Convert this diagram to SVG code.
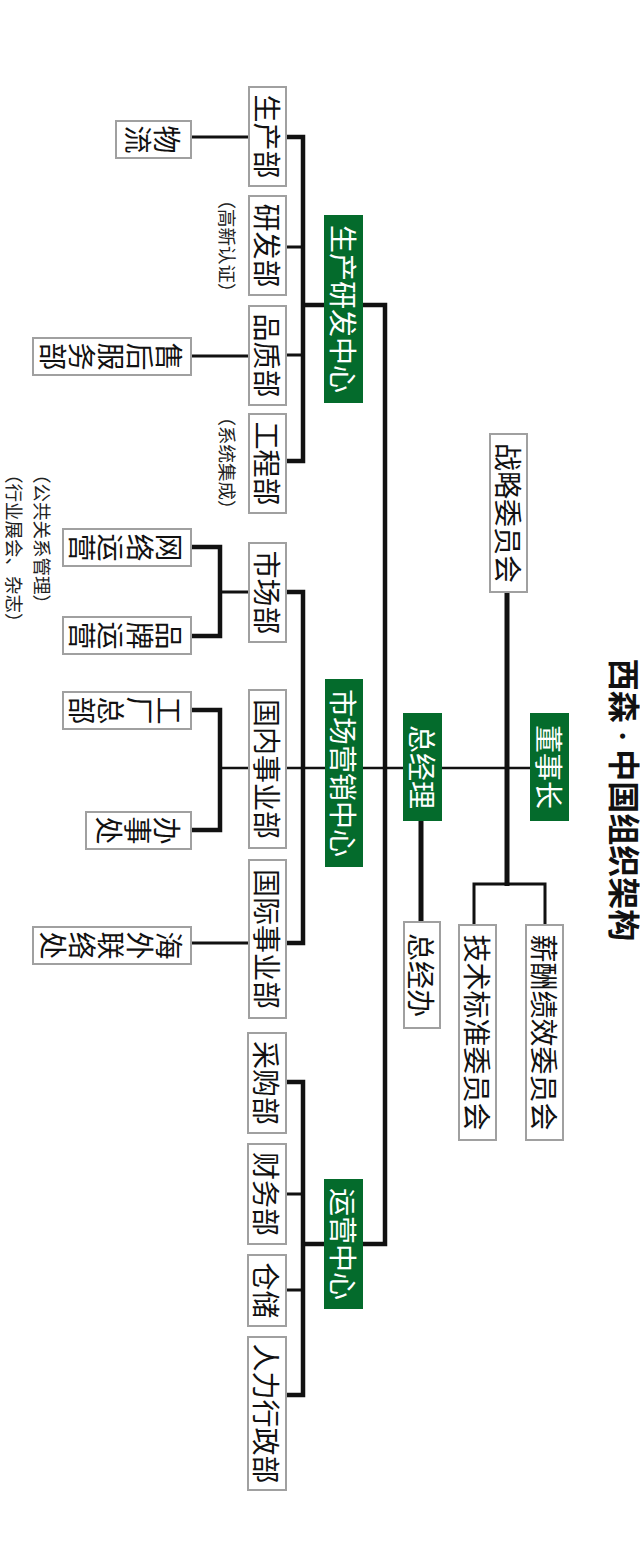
<svg xmlns="http://www.w3.org/2000/svg" width="640" height="1550" viewBox="0 0 640 1550">
<style>
.bx{fill:#fff;stroke:#a0a0a0;stroke-width:2}
.gb{fill:#046b2c}
.t{font-family:"Noto Sans CJK SC","Noto Sans",sans-serif;font-size:28px;fill:#111;text-anchor:middle;dominant-baseline:central}
.w{fill:#fff}
.an{font-family:"Noto Sans CJK SC","Noto Sans",sans-serif;font-size:18.5px;fill:#222;dominant-baseline:central}
.ttl{font-family:"Liberation Serif","Noto Sans CJK SC",serif;font-size:32px;font-weight:700;fill:#111;text-anchor:middle;dominant-baseline:central}
.c{fill:none;stroke:#111;stroke-width:3;stroke-linejoin:miter}
.k{fill:none;stroke:#111;stroke-width:4.5;stroke-linejoin:miter}
.h{fill:none;stroke:#111;stroke-width:2.5}
</style>
<rect width="640" height="1550" fill="#fff"/>
<text class="ttl" transform="translate(623,800) rotate(90)">西森 · 中国组织架构</text>
<g id="connectors">
<line class="h" x1="220" y1="768" x2="530" y2="768"/>
<path class="k" d="M363,305 H385 V1244 H363"/>
<path class="k" d="M286,137 H303 V461 H286 M303,305 H324"/>
<path class="c" d="M286,247 H303 M286,355 H303"/>
<path class="k" d="M286,592 H303 V943 H286"/>
<path class="k" d="M286,1082 H303 V1395 H286 M303,1244 H324"/>
<path class="c" d="M286,1194 H303 M286,1290 H303"/>
<line class="c" x1="191" y1="137" x2="249" y2="137"/>
<line class="c" x1="191" y1="356" x2="249" y2="356"/>
<line class="c" x1="191" y1="943" x2="249" y2="943"/>
<path class="k" d="M191,547 H220 V636 H191"/>
<line class="c" x1="220" y1="592" x2="249" y2="592"/>
<path class="k" d="M191,710 H220 V830 H191"/>
<line class="k" x1="507" y1="592" x2="507" y2="886" style="stroke-width:5"/>
<path class="c" d="M474,925 V884 H545 V925"/>
<line class="k" x1="421" y1="821" x2="421" y2="922" style="stroke-width:5"/>
</g>
<g id="n-dongshizhang"><rect class="gb" x="530" y="713" width="39" height="108"/><text class="t w" transform="translate(549.5,767) rotate(90)">董事长</text></g>
<g id="n-zongjingli"><rect class="gb" x="403" y="713" width="39" height="108"/><text class="t w" transform="translate(422.5,767) rotate(90)">总经理</text></g>
<g id="n-zhanlue"><rect class="bx" x="490" y="434" width="37" height="158"/><text class="t" transform="translate(508.5,513) rotate(90)">战略委员会</text></g>
<g id="n-zongjingban"><rect class="bx" x="404" y="922" width="36" height="106"/><text class="t" transform="translate(422,975) rotate(90)">总经办</text></g>
<g id="n-jishu"><rect class="bx" x="459" y="925" width="37" height="215"/><text class="t" transform="translate(477.5,1032.5) rotate(90)">技术标准委员会</text></g>
<g id="n-xinchou"><rect class="bx" x="526" y="925" width="37" height="215"/><text class="t" transform="translate(544.5,1032.5) rotate(90)">薪酬绩效委员会</text></g>
<g id="n-shengchanyanfa"><rect class="gb" x="324" y="215" width="39" height="188"/><text class="t w" transform="translate(343.5,309) rotate(90)">生产研发中心</text></g>
<g id="n-shichangyingxiao"><rect class="gb" x="325" y="679" width="38" height="188"/><text class="t w" transform="translate(344,773) rotate(90)">市场营销中心</text></g>
<g id="n-yunying"><rect class="gb" x="324" y="1179" width="39" height="130"/><text class="t w" transform="translate(343.5,1244) rotate(90)">运营中心</text></g>
<g id="n-shengchan"><rect class="bx" x="249" y="87" width="37" height="99"/><text class="t" transform="translate(267.5,136.5) rotate(90)">生产部</text></g>
<g id="n-yanfa"><rect class="bx" x="249" y="196" width="37" height="99"/><text class="t" transform="translate(267.5,245.5) rotate(90)">研发部</text></g>
<g id="n-pinzhi"><rect class="bx" x="249" y="306" width="37" height="99"/><text class="t" transform="translate(267.5,355.5) rotate(90)">品质部</text></g>
<g id="n-gongcheng"><rect class="bx" x="249" y="414" width="37" height="99"/><text class="t" transform="translate(267.5,463.5) rotate(90)">工程部</text></g>
<g id="n-shichang"><rect class="bx" x="249" y="543" width="37" height="99"/><text class="t" transform="translate(267.5,592.5) rotate(90)">市场部</text></g>
<g id="n-guonei"><rect class="bx" x="249" y="690" width="37" height="158"/><text class="t" transform="translate(267.5,769) rotate(90)">国内事业部</text></g>
<g id="n-guoji"><rect class="bx" x="249" y="860" width="37" height="158"/><text class="t" transform="translate(267.5,939) rotate(90)">国际事业部</text></g>
<g id="n-caigou"><rect class="bx" x="248" y="1033" width="38" height="100"/><text class="t" transform="translate(267,1083) rotate(90)">采购部</text></g>
<g id="n-caiwu"><rect class="bx" x="248" y="1144" width="38" height="100"/><text class="t" transform="translate(267,1194) rotate(90)">财务部</text></g>
<g id="n-cangchu"><rect class="bx" x="248" y="1255" width="38" height="71"/><text class="t" transform="translate(267,1290.5) rotate(90)">仓储</text></g>
<g id="n-renli"><rect class="bx" x="248" y="1337" width="38" height="153"/><text class="t" transform="translate(267,1413.5) rotate(90)">人力行政部</text></g>
<g id="n-wuliu"><rect class="bx" x="116" y="121" width="75" height="37"/><text class="t" transform="translate(168,139.5) rotate(90)"><tspan x="0" y="0">物</tspan><tspan x="0" y="29">流</tspan></text></g>
<g id="n-shouhou"><rect class="bx" x="33" y="338" width="158" height="37"/><text class="t" transform="translate(170,356.5) rotate(90)"><tspan x="0" y="0">售</tspan><tspan x="0" y="29">后</tspan><tspan x="0" y="58">服</tspan><tspan x="0" y="87">务</tspan><tspan x="0" y="116">部</tspan></text></g>
<g id="n-wangluo"><rect class="bx" x="63" y="529" width="128" height="37"/><text class="t" transform="translate(169.5,547.5) rotate(90)"><tspan x="0" y="0">网</tspan><tspan x="0" y="29">络</tspan><tspan x="0" y="58">运</tspan><tspan x="0" y="87">营</tspan></text></g>
<g id="n-pinpai"><rect class="bx" x="63" y="617" width="128" height="37"/><text class="t" transform="translate(169.5,635.5) rotate(90)"><tspan x="0" y="0">品</tspan><tspan x="0" y="29">牌</tspan><tspan x="0" y="58">运</tspan><tspan x="0" y="87">营</tspan></text></g>
<g id="n-gongchang"><rect class="bx" x="63" y="692" width="128" height="37"/><text class="t" transform="translate(169.5,710.5) rotate(90)"><tspan x="0" y="0">工</tspan><tspan x="0" y="29">厂</tspan><tspan x="0" y="58">总</tspan><tspan x="0" y="87">部</tspan></text></g>
<g id="n-banshichu"><rect class="bx" x="86" y="812" width="105" height="37"/><text class="t" transform="translate(167.5,830.5) rotate(90)"><tspan x="0" y="0">办</tspan><tspan x="0" y="29">事</tspan><tspan x="0" y="58">处</tspan></text></g>
<g id="n-haiwai"><rect class="bx" x="33" y="927" width="158" height="37"/><text class="t" transform="translate(170,945.5) rotate(90)"><tspan x="0" y="0">海</tspan><tspan x="0" y="29">外</tspan><tspan x="0" y="58">联</tspan><tspan x="0" y="87">络</tspan><tspan x="0" y="116">处</tspan></text></g>
<g id="annotations">
<text class="an" text-anchor="middle" transform="translate(228,246) rotate(90)">（高新认证）</text>
<text class="an" text-anchor="middle" transform="translate(228,463) rotate(90)">（系统集成）</text>
<text class="an" text-anchor="start" transform="translate(43,465) rotate(90)">（公共关系管理）</text>
<text class="an" text-anchor="start" transform="translate(15,465) rotate(90)">（行业展会、杂志）</text>
</g>
</svg>
